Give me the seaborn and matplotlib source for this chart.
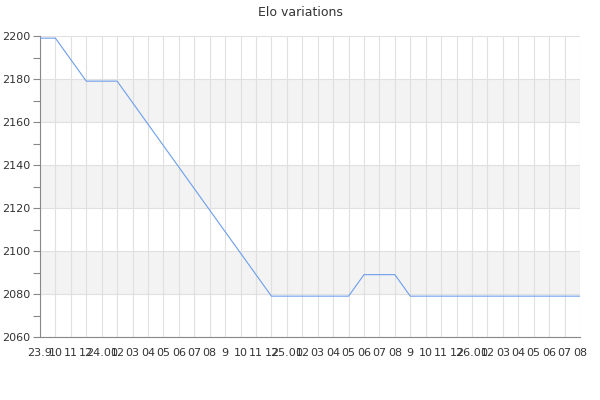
import pandas as pd
import matplotlib
matplotlib.use('Agg')
import matplotlib.pyplot as plt
from matplotlib.ticker import MultipleLocator
import seaborn as sns

# Monthly labels, Sep 2023 - Aug 2026
month_labels = ['23.9', '10', '11', '12',
                '24.01', '02', '03', '04', '05', '06', '07', '08', '9', '10', '11', '12',
                '25.01', '02', '03', '04', '05', '06', '07', '08', '9', '10', '11', '12',
                '26.01', '02', '03', '04', '05', '06', '07', '08']

# Elo values
elo = [2199, 2199, 2189, 2179, 2179, 2179, 2169, 2159, 2149, 2139,
       2129, 2119, 2109, 2099, 2089, 2079, 2079, 2079, 2079, 2079,
       2079, 2089, 2089, 2089, 2079, 2079, 2079, 2079, 2079, 2079,
       2079, 2079, 2079, 2079, 2079, 2079]

df = pd.DataFrame({'idx': range(len(elo)), 'elo': elo})

sns.set_style('white')
plt.rcParams['font.family'] = ['DejaVu Sans']

fig = plt.figure(figsize=(6, 4), dpi=100)
ax = fig.add_axes([40 / 600, 63 / 400, 540 / 600, 301 / 400])

# alternating background bands
y_min, y_max = 2060, 2200
for lo in range(y_min, y_max, 20):
    if ((lo - y_min) // 20) % 2 == 1:
        ax.axhspan(lo, lo + 20, color='#f3f3f3', zorder=0, lw=0)

sns.lineplot(data=df, x='idx', y='elo', ax=ax, color='#6d9eeb', linewidth=0.8, zorder=3)

ax.set_xlim(0, len(elo) - 1)
ax.set_ylim(y_min, y_max)
ax.set_xticks(range(len(month_labels)))
ax.set_xticklabels(month_labels)
ax.yaxis.set_major_locator(MultipleLocator(20))
ax.yaxis.set_minor_locator(MultipleLocator(10))

ax.grid(True, which='major', color='#e0e0e0', linewidth=0.8, zorder=1)
ax.set_axisbelow(True)

ax.tick_params(axis='x', length=0, labelsize=8, colors='#333333', pad=8)
ax.tick_params(axis='y', which='major', length=5, width=0.8, color='#888888',
               labelsize=8, labelcolor='#333333', left=True, pad=2)
ax.tick_params(axis='y', which='minor', length=5, width=0.8, color='#888888', left=True)

for side in ['top', 'right']:
    ax.spines[side].set_visible(False)
for side in ['left', 'bottom']:
    ax.spines[side].set_color('#888888')
    ax.spines[side].set_linewidth(0.8)

ax.set_xlabel('')
ax.set_ylabel('')
fig.text(0.5, 0.97, 'Elo variations', ha='center', va='center', fontsize=9, color='#333333')

fig.savefig('out.png', dpi=100)
